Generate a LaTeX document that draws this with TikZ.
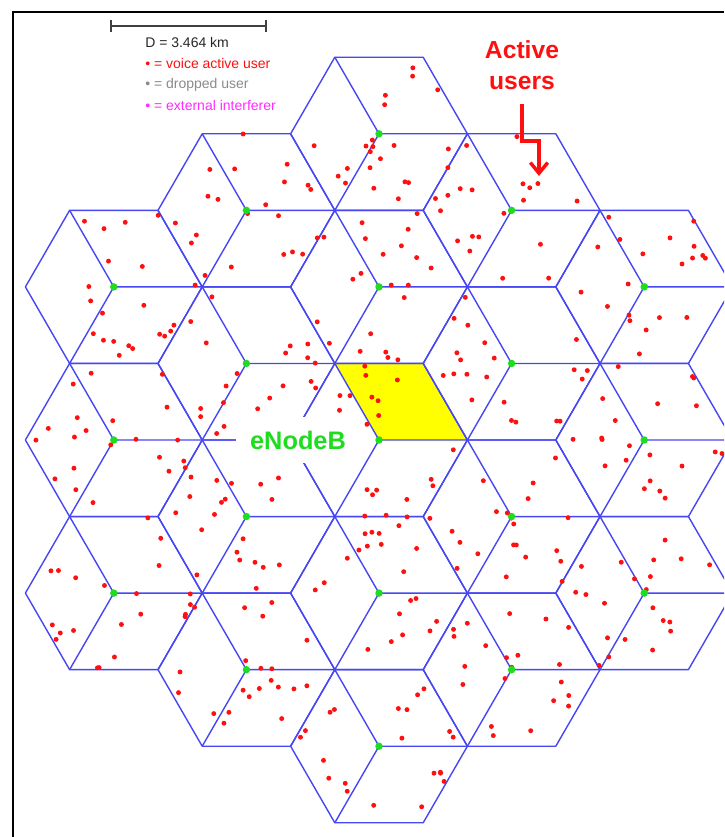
\documentclass[tikz,border=0pt]{standalone}
\usepackage{fontspec}
\setmainfont{Liberation Sans}
\usetikzlibrary{arrows.meta, positioning}
\definecolor{cellblue}{HTML}{4646F2}
\definecolor{userred}{HTML}{FF1010}
\definecolor{dropgray}{HTML}{8A8A8A}
\definecolor{extmag}{HTML}{FF2BFF}
\definecolor{bsgreen}{HTML}{1EDC1E}
\definecolor{sector}{HTML}{FFFF00}

\begin{document}
\begin{tikzpicture}[
    x=0.75pt, y=-0.75pt,
    cell/.style={draw=cellblue, line width=1.05pt, line join=round},
    user/.style={fill=userred},
    site/.style={fill=bsgreen},
    scalebar/.style={draw=black!75, line width=1pt},
    legend/.style={anchor=west, inner sep=0pt, font=\fontsize{10.5}{12}\selectfont},
    callout/.style={text=userred, font=\fontsize{18.5}{23.3}\selectfont\bfseries, align=center, inner sep=0pt},
    pointer/.style={draw=userred, line width=2.6pt, -{Straight Barb[length=8pt, width=13pt]}},
    bslabel/.style={fill=white, text=bsgreen, font=\fontsize{19}{23}\selectfont\bfseries, minimum width=93pt, minimum height=34.5pt},
]
    \useasboundingbox (0,0) rectangle (724,837);
    \clip (0,0) rectangle (724,837);
    \def\a{88.4}
    \def\sites{-2/-1,-2/0,-2/1, -1/-1.5,-1/-0.5,-1/0.5,-1/1.5, 0/-2,0/-1,0/0,0/1,0/2, 1/-1.5,1/-0.5,1/0.5,1/1.5, 2/-1,2/0,2/1}
    % Highlighted sector
    \fill[sector] (379,440) -- +(240:\a) -- +(300:\a) -- +(0:\a) -- cycle;
    % Cells, three sectors each
    \foreach \q/\r in \sites {
        \pgfmathsetmacro\cx{379+132.6*(\q)}
        \pgfmathsetmacro\cy{440+153.1*(\r)}
        \draw[cell] (\cx,\cy) +(0:\a) -- +(60:\a) -- +(120:\a) -- +(180:\a) -- +(240:\a) -- +(300:\a) -- cycle;
        \draw[cell] (\cx,\cy) -- +(0:\a) (\cx,\cy) -- +(120:\a) (\cx,\cy) -- +(240:\a);
    }
    % Users
    \pgfmathsetseed{2718}
    \foreach \q/\r in \sites {
        \pgfmathsetmacro\cx{379+132.6*(\q)}
        \pgfmathsetmacro\cy{440+153.1*(\r)}
        \foreach \n in {1,...,21} {
            \pgfmathsetmacro\u{rnd}
            \pgfmathsetmacro\v{rnd}
            \pgfmathsetmacro\k{120*int(3*rnd)}
            \fill[user] (\cx,\cy) ++(\k:\u*\a) ++(\k+120:\v*\a) circle[radius=1.85pt];
        }
    }
    % eNodeBs
    \foreach \q/\r in \sites {
        \pgfmathsetmacro\cx{379+132.6*(\q)}
        \pgfmathsetmacro\cy{440+153.1*(\r)}
        \fill[site] (\cx,\cy) circle[radius=2.8pt];
    }
    \node[bslabel] (enb) at (298,440) {eNodeB};
    % Callout
    \node[callout] (active) at (522,65) {Active\\users};
    \coordinate (tip) at (539,176);
    \draw[pointer] ([yshift=-10.5pt]active.south) -- ++(0,37) -| (tip);
    % Legend
    \draw[scalebar] (111,20) -- (111,32) (111,26) -- (266,26) (266,20) -- (266,32);
    \node[legend, text=black!85] (dist) at (145,43) {D = 3.464 km};
    \node[legend, text=userred, below=15.75pt of dist.west, anchor=west] (legvoice) {• = voice active user};
    \node[legend, text=dropgray, below=15.75pt of legvoice.west, anchor=west] (legdrop) {• = dropped user};
    \node[legend, text=extmag, below=15.75pt of legdrop.west, anchor=west] (legext) {• = external interferer};
    % Frame
    \draw[line width=1.5pt] (13,837) -- (13,12) -- (724,12);
\end{tikzpicture}
\end{document}
